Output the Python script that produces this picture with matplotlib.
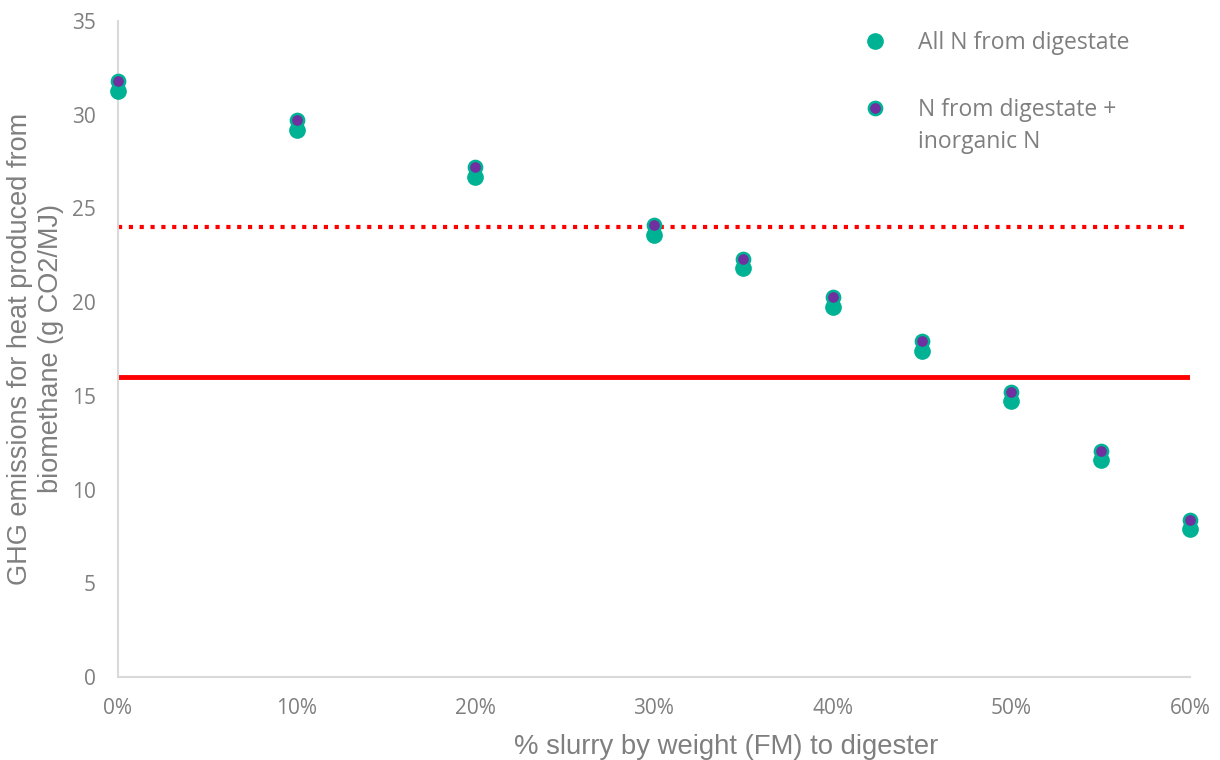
import matplotlib
matplotlib.use("Agg")
import matplotlib.pyplot as plt
from matplotlib.ticker import FuncFormatter

plt.rcParams['font.family'] = ['Open Sans', 'DejaVu Sans']

slurry = [0.0, 0.10, 0.20, 0.30, 0.35, 0.40, 0.45, 0.50, 0.55, 0.60]
all_n_digestate = [31.25, 29.2, 26.7, 23.6, 21.8, 19.75, 17.4, 14.75, 11.6, 7.9]
n_digestate_inorganic = [31.8, 29.7, 27.2, 24.1, 22.3, 20.25, 17.9, 15.2, 12.05, 8.35]
threshold_dotted = 24
threshold_solid = 16

GREY = '#7f7f7f'
TEAL = '#00b294'
PURPLE = '#7030a0'

fig = plt.figure(figsize=(12.2, 7.6), dpi=100)
ax = fig.add_axes([0.0967, 0.1092, 0.8787, 0.8632])

ax.axhline(threshold_dotted, color='#ff0000', linewidth=3, linestyle=(0, (1, 1.6)), zorder=1)
ax.axhline(threshold_solid, color='#ff0000', linewidth=3.5, zorder=1)

ax.plot(slurry, all_n_digestate, linestyle='none', marker='o', markersize=11,
        color=TEAL, markeredgecolor=TEAL, label='All N from digestate', zorder=3, clip_on=False)
ax.plot(slurry, n_digestate_inorganic, linestyle='none', marker='o', markersize=9.5,
        color=PURPLE, markeredgecolor=TEAL, markeredgewidth=1.8,
        label='N from digestate +', zorder=4, clip_on=False)

ax.set_xlim(0, 0.6)
ax.set_ylim(0, 35)
ax.set_xticks([0, 0.1, 0.2, 0.3, 0.4, 0.5, 0.6])
ax.set_yticks(range(0, 36, 5))
ax.xaxis.set_major_formatter(FuncFormatter(lambda v, p: f"{v*100:.0f}%"))
ax.tick_params(length=0, labelsize=15, colors=GREY, pad=15)
ax.tick_params(axis='y', pad=16)
for s in ['top', 'right']:
    ax.spines[s].set_visible(False)
for s in ['left', 'bottom']:
    ax.spines[s].set_color('#d9d9d9')
    ax.spines[s].set_linewidth(1.5)

ax.set_xlabel('% slurry by weight (FM) to digester', fontsize=19.8, color=GREY,
              family=['Liberation Sans', 'DejaVu Sans'])
ax.xaxis.set_label_coords(0.567, -0.087)
ax.set_ylabel('GHG emissions for heat produced from\nbiomethane (g CO2/MJ)', fontsize=19.5,
              color=GREY, linespacing=1.25, family=['Liberation Sans', 'DejaVu Sans'])
ax.yaxis.set_label_coords(-0.050, 0.5)

leg = ax.legend(loc='upper left', bbox_to_anchor=(0.7033, 0.959), bbox_transform=fig.transFigure,
                frameon=False, fontsize=16.5, labelcolor=GREY, labelspacing=1.85,
                handletextpad=1.1, handlelength=1.5, borderpad=0, borderaxespad=0)

# second line of the second legend label, placed under its first line
fig.canvas.draw()
bb = leg.get_texts()[1].get_window_extent()
fig.text(bb.x0 / fig.bbox.width, (bb.y0 + bb.y1) / 2 / fig.bbox.height - 32 / fig.bbox.height,
         'inorganic N', va='center', ha='left', fontsize=16.5, color=GREY)

fig.savefig('out.png', dpi=100)
